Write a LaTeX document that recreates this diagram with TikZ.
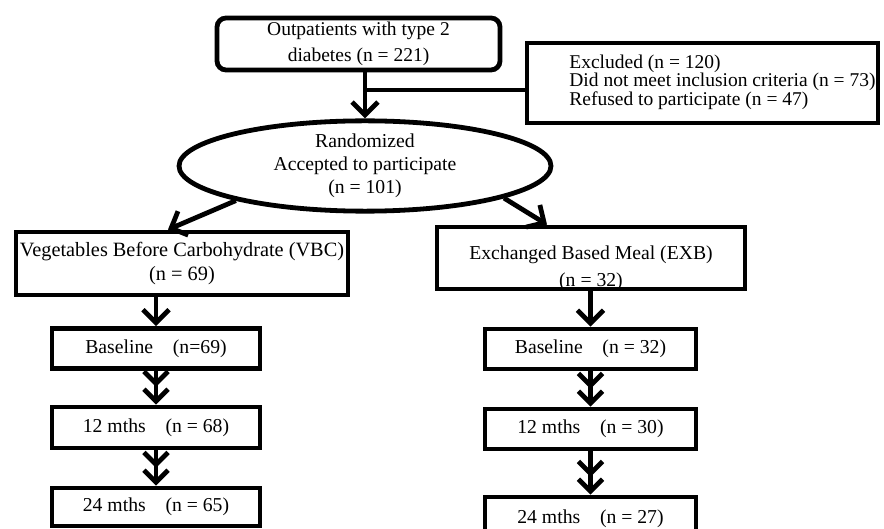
\documentclass[tikz,border=0pt]{standalone}
\usepackage{fontspec}
\setmainfont{Liberation Serif}
\usetikzlibrary{arrows.meta, shapes.geometric}
\begin{document}
\begin{tikzpicture}[x=1pt, y=-1pt, line width=4.8pt, font=\fontsize{19.7}{24}\selectfont]
\tikzstyle{every node}+=[inner sep=0pt]
\tikzstyle{box}=[draw, rectangle, align=center]
\tikzstyle{stage}=[box, minimum width=208pt, minimum height=40pt]
\tikzstyle{arr}=[-{Straight Barb[length=13pt,width=26pt]}]
\tikzstyle{arrr}=[-{Straight Barb[length=12pt,width=24pt] Straight Barb[length=12pt,width=24pt]}]
\path[use as bounding box, clip] (0,0) rectangle (884,529);
\node[box, rounded corners=9pt, minimum width=283pt, minimum height=52pt, font=\fontsize{19.5}{26}\selectfont] (Start) at (358.5,44) {Outpatients with type 2\\diabetes (n = 221)};
\node[box, minimum width=351pt, minimum height=80pt] (Excl) at (702.5,83) {};
\node[anchor=west, align=left, font=\fontsize{19.5}{18.5}\selectfont] (ExclText) at (567,82) {Excluded (n = 120)\\Did not meet inclusion criteria (n = 73)\\Refused to participate (n = 47)};
\node[draw, ellipse, minimum width=372pt, minimum height=90pt, align=center, font=\fontsize{19.7}{23}\selectfont] (Rand) at (365,166) {Randomized\\Accepted to participate\\(n = 101)};
\node[box, minimum width=332pt, minimum height=63pt, font=\fontsize{20.3}{24}\selectfont] (VBC) at (182,263.5) {Vegetables Before Carbohydrate (VBC)\\(n = 69)};
\node[box, minimum width=308pt, minimum height=62pt] (EXB) at (591,258) {};
\node[align=center, font=\fontsize{19.7}{27}\selectfont] (EXBText) at (591,268.5) {Exchanged Based Meal (EXB)\\(n = 32)};
\node[stage] (VBCBase) at (156,348.5) {Baseline\quad(n=69)};
\node[stage, minimum height=41pt] (VBC12) at (156,427.5) {12 mths\quad(n = 68)};
\node[stage, minimum height=38pt] (VBC24) at (156,507) {24 mths\quad(n = 65)};
\node[stage, minimum width=211pt] (EXBBase) at (590.5,349) {Baseline\quad(n = 32)};
\node[stage, minimum width=211pt] (EXB12) at (590.5,429) {12 mths\quad(n = 30)};
\node[stage, minimum width=211pt, minimum height=44pt] (EXB24) at (590.5,519) {24 mths\quad(n = 27)};
\coordinate (Split) at (365,90);
\draw[arr] (Start.south -| Rand.north) -- (Rand.north);
\draw (Split) -- (Split -| Excl.west);
\draw[arr] (Rand.195) -- ([xshift=-14pt]VBC.north);
\draw[arr] (Rand.-13) -- ([xshift=-44pt]EXB.north);
\draw[arr] (VBC.south -| VBCBase.north) -- (VBCBase.north);
\draw[arrr] (VBCBase.south) -- (VBC12.north);
\draw[arrr] (VBC12.south) -- (VBC24.north);
\draw[arr] (EXB.south -| EXBBase.north) -- (EXBBase.north);
\draw[arrr] (EXBBase.south) -- (EXB12.north);
\draw[arrr] (EXB12.south) -- (EXB24.north);
\end{tikzpicture}
\end{document}
